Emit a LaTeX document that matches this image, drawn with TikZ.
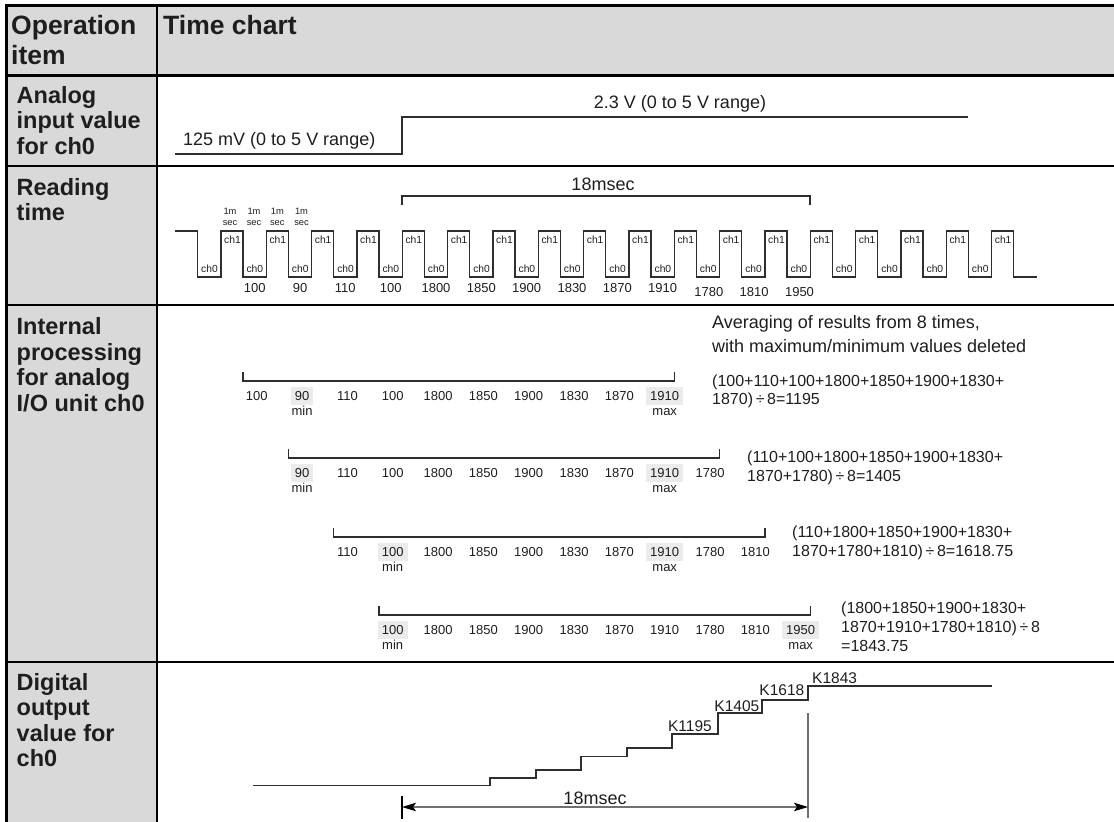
\documentclass[tikz,border=0pt]{standalone}
\usepackage{fontspec}
\setmainfont{Liberation Sans}
\usetikzlibrary{arrows.meta}
\definecolor{hdr}{HTML}{D9D9D9}
\definecolor{hl}{HTML}{EBEBEB}
\definecolor{ink}{HTML}{1E1E1E}
\definecolor{wline}{HTML}{2E2E2E}
\definecolor{gline}{HTML}{707070}
\tikzset{
  gridline/.style={line width=2.6pt, black},
  hdrtxt/.style={anchor=base west, inner sep=0pt, text=ink, font=\fontsize{26.5}{30}\selectfont\bfseries},
  lab/.style={anchor=base west, inner sep=0pt, text=ink, font=\fontsize{23.5}{25.5}\selectfont\bfseries},
  note/.style={anchor=base west, inner sep=0pt, text=ink, font=\fontsize{18}{21}\selectfont},
  form/.style={anchor=base west, inner sep=0pt, text=ink, font=\fontsize{16}{19}\selectfont},
  wave/.style={line width=1.2pt, wline},
  brk/.style={line width=1.2pt, wline},
  chlab/.style={anchor=base, inner sep=0pt, text=ink, font=\fontsize{10.3}{12}\selectfont},
  tinylab/.style={anchor=base, inner sep=0pt, text=ink, font=\fontsize{9.3}{11}\selectfont},
  val/.style={anchor=base, inner sep=0pt, text=ink, text height=9.3pt, text depth=0pt, font=\fontsize{13}{15}\selectfont},
  hlval/.style={val, fill=hl, inner xsep=4pt, inner ysep=4.35pt},
  mm/.style={anchor=base, inner sep=0pt, text=ink, font=\fontsize{13}{15}\selectfont},
  klab/.style={inner sep=0pt, text=ink, font=\fontsize{15.5}{18}\selectfont},
  dim/.style={line width=1.4pt, gline},
}
\begin{document}
\begin{tikzpicture}[x=1pt,y=-1pt]
\path[use as bounding box] (0,0) rectangle (1114,822);
% table background
\fill[hdr] (6,5) rectangle (1114,76);
\fill[hdr] (6,76) rectangle (157,822);
\draw[gridline] (5.2,5.5) -- (1114,5.5);
\draw[gridline] (6.5,4.2) -- (6.5,822);
\draw[gridline] (157,4.2) -- (157,822);
\foreach \yy in {75.5,166,305,662} \draw[gridline] (5.2,\yy) -- (1114,\yy);
% header
\node[hdrtxt] (h1) at (11,34) {Operation};
\node[hdrtxt] (h2) at (11,64) {item};
\node[hdrtxt] (h3) at (163,34) {Time chart};
% row labels
\node[lab] (a1) at (16.5,103) {Analog};
\node[lab] (a2) at (16.5,128.6) {input value};
\node[lab] (a3) at (16.5,154.3) {for ch0};
\node[lab] (r1) at (16.5,195) {Reading};
\node[lab] (r2) at (16.5,220.5) {time};
\node[lab] (i1) at (16.5,334.5) {Internal};
\node[lab] (i2) at (16.5,360) {processing};
\node[lab] (i3) at (16.5,385.5) {for analog};
\node[lab] (i4) at (16.5,411) {I/O unit ch0};
\node[lab] (d1) at (16.5,690) {Digital};
\node[lab] (d2) at (16.5,715.5) {output};
\node[lab] (d3) at (16.5,741) {value for};
\node[lab] (d4) at (16.5,766.5) {ch0};
% analog input
\draw[wave] (175,154) -- (402,154) -- (402,117) -- (968,117);
\node[note] (lo) at (183,145) {125 mV (0 to 5 V range)};
\node[note, anchor=base] (hi) at (680,108) {2.3 V (0 to 5 V range)};
% reading time
\draw[brk] (402,205) -- (402,196) -- (810,196) -- (810,205);
\node[note, anchor=base] (t18) at (603,190.5) {18msec};
\draw[wave] (175,231) -- (197.5,231) -- (197.5,277)
  \foreach \j in {0,...,17} { -- ({221+45.333*\j},277) -- ({221+45.333*\j},231) -- ({243+45.333*\j},231) -- ({243+45.333*\j},277) }
  -- (1037,277);
\foreach \j in {0,...,17} \node[chlab] (cA\j) at ({232.5+45.333*\j},243.5) {ch1};
\node[chlab] (cBs) at (209.5,272) {ch0};
\foreach \j in {0,...,16} \node[chlab] (cB\j) at ({254.9+45.333*\j},272) {ch0};
\foreach \xx [count=\i] in {230,254,277.3,301.5} {
  \node[tinylab] (m\i) at (\xx,214.2) {1m};
  \node[tinylab] (s\i) at (\xx,225.3) {sec};
}
\foreach \v [count=\i from 0] in {100,90,110,100,1800,1850,1900,1830,1870,1910}
  \node[val] (rv\i) at ({254.67+45.333*\i},292.7) {\v};
\foreach \v [count=\i from 10] in {1780,1810,1950}
  \node[val] (rv\i) at ({255.5+45.333*\i},296.5) {\v};
% internal processing
\node[note] (avg1) at (712,328) {Averaging of results from 8 times,};
\node[note] (avg2) at (712,352) {with maximum/minimum values deleted};
% row 1
\draw[brk] (243,372) -- (243,381) -- (674.3,381) -- (674.3,372);
\foreach \k/\v in {0/100,2/110,3/100,4/1800,5/1850,6/1900,7/1830,8/1870}
  \node[val] (pa\k) at ({256.7+45.333*\k},400.7) {\v};
\node[hlval] (pa1) at ({256.7+45.333*1},400.7) {90};
\node[hlval] (pa9) at ({256.7+45.333*9},400.7) {1910};
\node[mm] (pamin) at ({256.7+45.333*1},415.4) {min};
\node[mm] (pamax) at ({256.7+45.333*9},415.4) {max};
\node[form] (fa1) at (712,386) {(100+110+100+1800+1850+1900+1830+};
\node[form] (fa2) at (712,404.5) {1870)\,÷\,8=1195};
% row 2
\draw[brk] (288.3,449) -- (288.3,458) -- (719.7,458) -- (719.7,449);
\foreach \k/\v in {2/110,3/100,4/1800,5/1850,6/1900,7/1830,8/1870,10/1780}
  \node[val] (pb\k) at ({256.7+45.333*\k},477.7) {\v};
\node[hlval] (pb1) at ({256.7+45.333*1},477.7) {90};
\node[hlval] (pb9) at ({256.7+45.333*9},477.7) {1910};
\node[mm] (pbmin) at ({256.7+45.333*1},492.4) {min};
\node[mm] (pbmax) at ({256.7+45.333*9},492.4) {max};
\node[form] (fb1) at (747,462.5) {(110+100+1800+1850+1900+1830+};
\node[form] (fb2) at (747,481.5) {1870+1780)\,÷\,8=1405};
% row 3
\draw[brk] (333.7,528) -- (333.7,537) -- (765,537) -- (765,528);
\foreach \k/\v in {2/110,4/1800,5/1850,6/1900,7/1830,8/1870,10/1780,11/1810}
  \node[val] (pc\k) at ({256.7+45.333*\k},556.7) {\v};
\node[hlval] (pc3) at ({256.7+45.333*3},556.7) {100};
\node[hlval] (pc9) at ({256.7+45.333*9},556.7) {1910};
\node[mm] (pcmin) at ({256.7+45.333*3},571.4) {min};
\node[mm] (pcmax) at ({256.7+45.333*9},571.4) {max};
\node[form] (fc1) at (792,537) {(110+1800+1850+1900+1830+};
\node[form] (fc2) at (792,556) {1870+1780+1810)\,÷\,8=1618.75};
% row 4
\draw[brk] (379,606) -- (379,615) -- (810.3,615) -- (810.3,606);
\foreach \k/\v in {4/1800,5/1850,6/1900,7/1830,8/1870,9/1910,10/1780,11/1810}
  \node[val] (pd\k) at ({256.7+45.333*\k},634.7) {\v};
\node[hlval] (pd3) at ({256.7+45.333*3},634.7) {100};
\node[hlval] (pd12) at ({256.7+45.333*12},634.7) {1950};
\node[mm] (pdmin) at ({256.7+45.333*3},649.4) {min};
\node[mm] (pdmax) at ({256.7+45.333*12},649.4) {max};
\node[form] (fd1) at (841,613) {(1800+1850+1900+1830+};
\node[form] (fd2) at (841,632) {1870+1910+1780+1810)\,÷\,8};
\node[form] (fd3) at (841,651) {=1843.75};
% digital output
\draw[wave] (253,785.5) -- (490,785.5) -- (490,778) -- (536,778) -- (536,770) -- (581,770)
  -- (581,756.5) -- (627,756.5) -- (627,748) -- (672,748) -- (672,734) -- (718,734)
  -- (718,713) -- (762,713) -- (762,700) -- (808,700) -- (808,686) -- (992,686);
\node[klab, anchor=base east] (k1) at (712,731.5) {K1195};
\node[klab, anchor=base east] (k2) at (759.5,711.5) {K1405};
\node[klab, anchor=base east] (k3) at (804.5,695) {K1618};
\node[klab, anchor=base west] (k4) at (812,683) {K1843};
\coordinate (tl) at (402,807);
\coordinate (tr) at (808,807);
\coordinate (vt) at (808,713);
\coordinate (vb) at (808,818);
\coordinate (tt) at (402,796);
\coordinate (tb) at (402,819);
\draw[dim] (vt) -- (vb);
\draw[line width=1.3pt, black] (tt) -- (tb);
\draw[dim, {Stealth[length=14pt,width=8.5pt,inset=3pt,black]}-{Stealth[length=14pt,width=8.5pt,inset=3pt,black]}] (tl) -- (tr);
\node[note, anchor=base] (b18) at (595,804) {18msec};
\end{tikzpicture}
\end{document}
